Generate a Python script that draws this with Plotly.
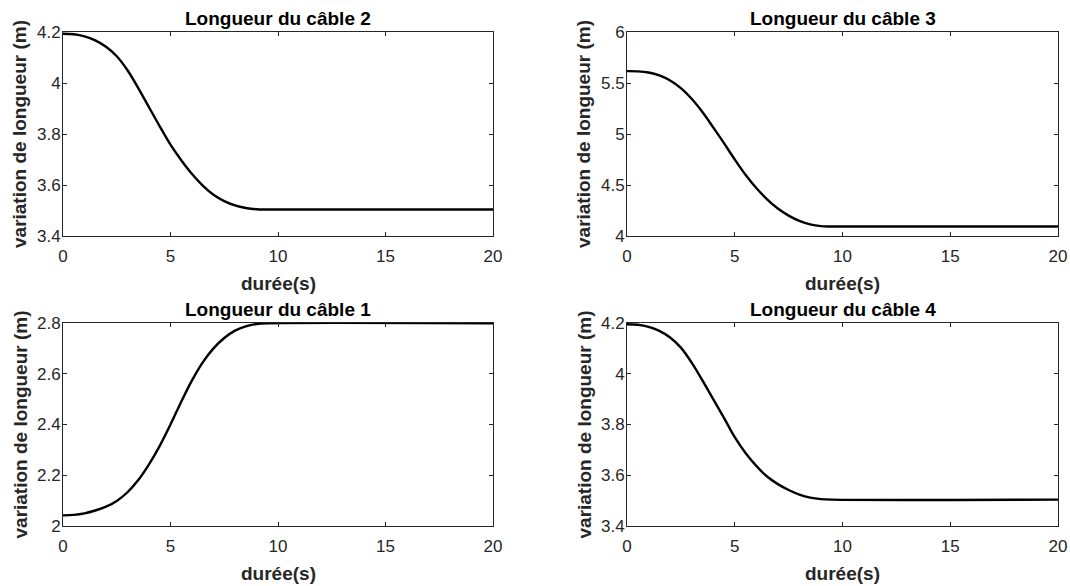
import plotly.graph_objects as go

# ---------------- data ----------------
titles = ["Longueur du câble 2", "Longueur du câble 3", "Longueur du câble 1", "Longueur du câble 4"]
x_label = "durée(s)"
y_label = "variation de longueur (m)"

x_ticks = [0, 5, 10, 15, 20]

t = [0, 0.5, 1.0, 1.5, 2.0, 2.5, 3.0, 3.5, 4.0, 4.5, 5.0, 5.5, 6.0, 6.5, 7.0, 7.5, 8.0, 8.5, 9.0, 9.5, 20]

# câble 2 (top-left)
v2 = [4.193, 4.191, 4.183, 4.167, 4.142, 4.105, 4.05, 3.98, 3.905, 3.83, 3.758,
      3.697, 3.643, 3.598, 3.562, 3.537, 3.52, 3.51, 3.505, 3.504, 3.504]
y2_ticks = [3.4, 3.6, 3.8, 4.0, 4.2]
y2_labels = ["3.4", "3.6", "3.8", "4", "4.2"]

# câble 3 (top-right)
v3 = [5.616, 5.614, 5.603, 5.575, 5.525, 5.45, 5.345, 5.215, 5.065, 4.91, 4.75,
      4.6, 4.47, 4.36, 4.27, 4.2, 4.148, 4.114, 4.097, 4.093, 4.093]
y3_ticks = [4.0, 4.5, 5.0, 5.5, 6.0]
y3_labels = ["4", "4.5", "5", "5.5", "6"]

# câble 1 (bottom-left)
v1 = [2.042, 2.044, 2.05, 2.061, 2.076, 2.099, 2.133, 2.181, 2.243, 2.316, 2.4,
      2.49, 2.574, 2.645, 2.7, 2.741, 2.77, 2.787, 2.796, 2.799, 2.799]
y1_ticks = [2.0, 2.2, 2.4, 2.6, 2.8]
y1_labels = ["2", "2.2", "2.4", "2.6", "2.8"]

# câble 4 (bottom-right)
v4 = [4.195, 4.193, 4.185, 4.169, 4.143, 4.103, 4.044, 3.974, 3.9, 3.826, 3.75,
      3.688, 3.637, 3.595, 3.565, 3.542, 3.524, 3.512, 3.506, 3.504, 3.504]
y4_ticks = [3.4, 3.6, 3.8, 4.0, 4.2]
y4_labels = ["3.4", "3.6", "3.8", "4", "4.2"]

# ---------------- layout geometry (pixels) ----------------
W, H = 1070, 586
FONT = "Arial, 'Liberation Sans', Helvetica, sans-serif"
AX = "#262626"

panels = [
    # (values, yticks, ylabels, x0, x1, ytop, ybot)
    (v2, y2_ticks, y2_labels, 63, 493, 32, 236),
    (v3, y3_ticks, y3_labels, 627, 1058, 32, 236),
    (v1, y1_ticks, y1_labels, 63, 493, 323, 526),
    (v4, y4_ticks, y4_labels, 627, 1058, 323, 526),
]

fig = go.Figure()
annotations = []
layout = {}

for i, (v, yt, yl, x0, x1, ytop, ybot) in enumerate(panels):
    n = "" if i == 0 else str(i + 1)
    xa, ya = "x" + n, "y" + n
    fig.add_trace(go.Scatter(
        x=t, y=v, mode="lines", xaxis=xa, yaxis=ya,
        line=dict(color="black", width=2.4, shape="spline", smoothing=1.0),
        showlegend=False, hoverinfo="skip"))
    common = dict(showline=True, linecolor=AX, linewidth=1, mirror="ticks",
                  ticks="inside", ticklen=4, tickwidth=1, tickcolor=AX,
                  showgrid=False, zeroline=False, automargin=False,
                  tickfont=dict(family=FONT, size=17, color=AX))
    layout["xaxis" + n] = dict(common, domain=[x0 / W, x1 / W], anchor=ya,
                               range=[0, 20], tickvals=x_ticks,
                               ticktext=[str(k) for k in x_ticks],
                               ticklabelstandoff=5)
    layout["yaxis" + n] = dict(common, domain=[1 - ybot / H, 1 - ytop / H], anchor=xa,
                               range=[yt[0], yt[-1]], tickvals=yt, ticktext=yl,
                               ticklabelstandoff=-2)
    xc = (x0 + x1) / 2
    yc = (ytop + ybot) / 2
    annotations.append(dict(text="<b>" + titles[i] + "</b>", x=xc / W, y=1 - (ytop - 14) / H,
                            xref="paper", yref="paper", xanchor="center", yanchor="middle",
                            showarrow=False, font=dict(family=FONT, size=19, color="black")))
    annotations.append(dict(text="<b>" + x_label + "</b>", x=xc / W, y=1 - (ybot + 47) / H,
                            xref="paper", yref="paper", xanchor="center", yanchor="middle",
                            showarrow=False, font=dict(family=FONT, size=19, color=AX)))
    annotations.append(dict(text="<b>" + y_label + "</b>", x=(x0 - 43) / W, y=1 - yc / H,
                            xref="paper", yref="paper", xanchor="center", yanchor="middle",
                            textangle=-90, showarrow=False,
                            font=dict(family=FONT, size=19, color=AX)))

fig.update_layout(**layout)
fig.update_layout(
    template="none",
    width=W, height=H,
    margin=dict(l=0, r=0, t=0, b=0, autoexpand=False),
    paper_bgcolor="white", plot_bgcolor="white",
    annotations=annotations,
    showlegend=False,
)

fig.write_html(
    "out.html",
    config={"displayModeBar": False, "staticPlot": True},
    post_script="document.body.style.margin='0';document.body.style.padding='0';"
                "document.documentElement.style.overflow='hidden';",
)
